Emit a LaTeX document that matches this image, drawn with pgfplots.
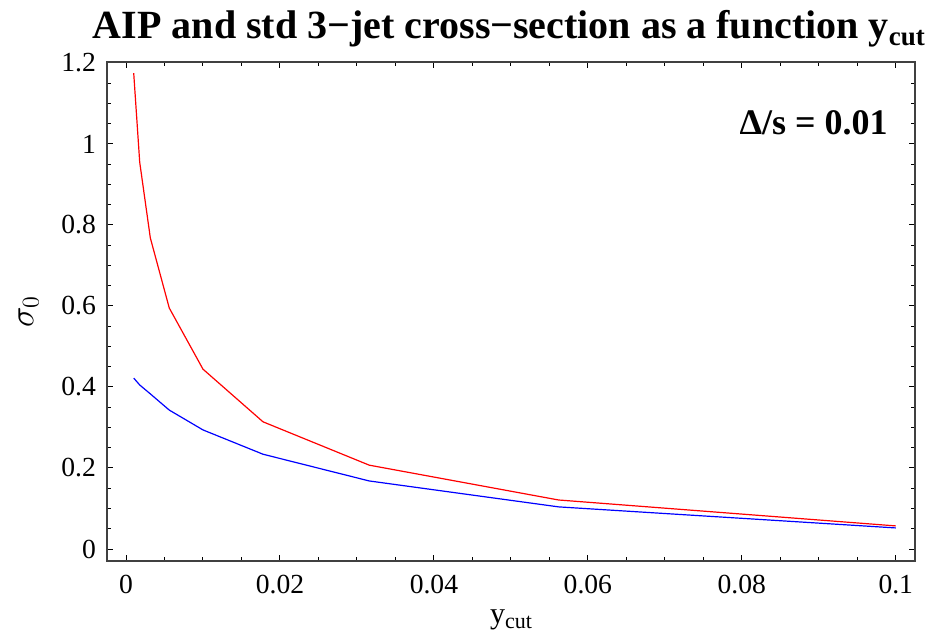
\documentclass[border=0pt]{standalone}
\usepackage{fontspec}
\setmainfont{Liberation Serif}
\usepackage{pgfplots}
\pgfplotsset{compat=1.18}
\begin{document}
\begin{tikzpicture}
\begin{axis}[
  at={(0,0)}, anchor=south west,
  scale only axis, width=404pt, height=249.5pt,
  xmin=-0.00247, xmax=0.1025, ymin=-0.0296, ymax=1.2025,
  xtick={0,0.02,0.04,0.06,0.08,0.1},
  xticklabels={0,0.02,0.04,0.06,0.08,0.1},
  ytick={0,0.2,0.4,0.6,0.8,1,1.2},
  yticklabels={0,0.2,0.4,0.6,0.8,1,1.2},
  minor x tick num=3, minor y tick num=3,
  tick align=inside,
  major tick length=3pt, minor tick length=1.8pt,
  every tick/.style={black, line width=0.5pt},
  axis line style={line width=0.6pt, black!75},
  ticklabel style={font=\fontsize{13.8}{15}\selectfont},
  xticklabel style={yshift=-3.5pt},
  yticklabel style={xshift=-2pt},
  xlabel={y\raisebox{-0.35ex}{\fontsize{11}{12}\selectfont cut}},
  xlabel style={at={(axis description cs:0.5,-0.118)}, anchor=center, font=\fontsize{15}{17}\selectfont},
  ylabel={$\sigma_0$},
  ylabel style={at={(axis description cs:-0.097,0.5)}, anchor=center, font=\fontsize{17}{19}\selectfont},
  clip=false,
]
\addplot[red, line width=0.6pt] coordinates {
 (0.001,1.175) (0.00178,0.955) (0.00316,0.768) (0.00562,0.595) (0.01,0.444)
 (0.0178,0.314) (0.0316,0.207) (0.0562,0.121) (0.1,0.057)};
\addplot[blue, line width=0.6pt] coordinates {
 (0.001,0.422) (0.00178,0.405) (0.00316,0.383) (0.00562,0.343) (0.01,0.294)
 (0.0178,0.234) (0.0316,0.168) (0.0562,0.104) (0.1,0.052)};
\node[anchor=east, inner sep=0pt, font=\fontsize{18}{20}\selectfont\bfseries] at (axis description cs:0.9666,0.8778) {Δ/s = 0.01};
\node[anchor=center, font=\fontsize{20}{22}\selectfont\bfseries] at (axis description cs:0.4975,1.066) {AIP and std 3−jet cross−section as a function y\raisebox{-0.35ex}{\fontsize{13.5}{14}\selectfont cut}};
\end{axis}
\path[use as bounding box] (-53.5pt,-37pt) rectangle (412.5pt,280.5pt);
\end{tikzpicture}
\end{document}
